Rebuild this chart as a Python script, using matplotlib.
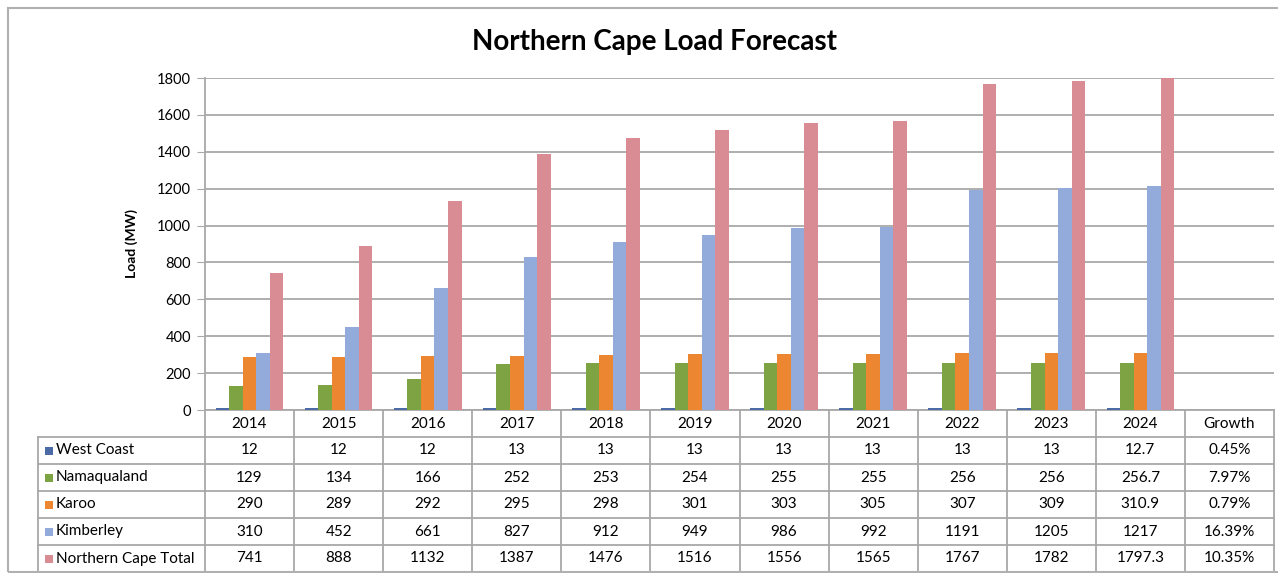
import numpy as np
import matplotlib.pyplot as plt
from matplotlib.patches import Rectangle
from matplotlib.transforms import blended_transform_factory

# Data
years = ['2014', '2015', '2016', '2017', '2018', '2019', '2020', '2021', '2022', '2023', '2024']
columns = years + ['Growth']
series_names = ['West Coast', 'Namaqualand', 'Karoo', 'Kimberley', 'Northern Cape Total']
west_coast = [12, 12, 12, 13, 13, 13, 13, 13, 13, 13, 12.7]
namaqualand = [129, 134, 166, 252, 253, 254, 255, 255, 256, 256, 256.7]
karoo = [290, 289, 292, 295, 298, 301, 303, 305, 307, 309, 310.9]
kimberley = [310, 452, 661, 827, 912, 949, 986, 992, 1191, 1205, 1217]
nc_total = [741, 888, 1132, 1387, 1476, 1516, 1556, 1565, 1767, 1782, 1797.3]
growth = ['0.45%', '7.97%', '0.79%', '16.39%', '10.35%']
colors = ['#4A6BA6', '#7DA343', '#EC8631', '#93ABDA', '#D98C93']

plt.rcParams['font.family'] = ['Lato', 'DejaVu Sans']

W, H = 1278, 573
fig = plt.figure(figsize=(W / 100, H / 100), dpi=100)

# chart frame
fig.patches.append(Rectangle((8 / W, 1 - 572 / H), 1.2, (572 - 8) / H, transform=fig.transFigure,
                             fill=False, edgecolor='#B0B0B0', lw=1.5))

ax = fig.add_axes([205 / W, 1 - 410 / H, (1274 - 205) / W, (410 - 78) / H])

all_series = [west_coast, namaqualand, karoo, kimberley, nc_total]
x = np.arange(len(years))
w = 0.152
for i, vals in enumerate(all_series):
    ax.bar(x + (i - 2) * w, vals, width=w, color=colors[i], zorder=3)

ax.set_xlim(-0.5, len(columns) - 0.5)
ax.set_ylim(0, 1800)
ax.set_yticks(range(0, 1801, 200))
ax.set_xticks([])
ax.yaxis.grid(True, color='#A8A8A8', lw=1.3, zorder=0)
for s in ['top', 'right', 'bottom']:
    ax.spines[s].set_visible(False)
ax.spines['left'].set_color('#A8A8A8')
ax.spines['left'].set_linewidth(1.3)
ax.tick_params(axis='y', direction='out', length=6, color='#A8A8A8', labelsize=10.5, pad=4)
ax.set_ylabel('Load (MW)', fontsize=10, fontweight='bold', labelpad=14)
fig.text(655 / W, 1 - 42 / H, 'Northern Cape Load Forecast', ha='center', va='center',
         fontsize=20, fontweight='bold')

# data table below the axis
trans = blended_transform_factory(ax.transData, ax.transAxes)
rh = 27 / 332.0
left = -0.5 - (205 - 38) / 89.1
right = len(columns) - 0.5
lc = '#A8A8A8'
fs = 11
ax.plot([-0.5, right], [0, 0], color=lc, lw=1.3, transform=trans, clip_on=False)
for k in range(1, 7):
    ax.plot([left, right], [-k * rh, -k * rh], color=lc, lw=1.3, transform=trans, clip_on=False)
for j in range(len(columns) + 1):
    ax.plot([j - 0.5, j - 0.5], [0, -6 * rh], color=lc, lw=1.3, transform=trans, clip_on=False)
ax.plot([left, left], [-rh, -6 * rh], color=lc, lw=1.3, transform=trans, clip_on=False)

for j, c in enumerate(columns):
    ax.text(j, -0.5 * rh, c, ha='center', va='center', fontsize=fs, transform=trans)

for r, (name, vals) in enumerate(zip(series_names, all_series)):
    yc = -(r + 1.5) * rh
    sq = 8 / 89.1
    ax.add_patch(Rectangle((left + 7 / 89.1, yc - 4 / 332), sq, 8 / 332, transform=trans,
                           facecolor=colors[r], edgecolor='none', clip_on=False))
    ax.text(left + 18 / 89.1, yc, name, ha='left', va='center', fontsize=fs, transform=trans)
    for j, v in enumerate(vals):
        ax.text(j, yc, '{:g}'.format(v), ha='center', va='center', fontsize=fs, transform=trans)
    ax.text(len(years), yc, growth[r], ha='center', va='center', fontsize=fs, transform=trans)

fig.savefig('out.png', dpi=100)
